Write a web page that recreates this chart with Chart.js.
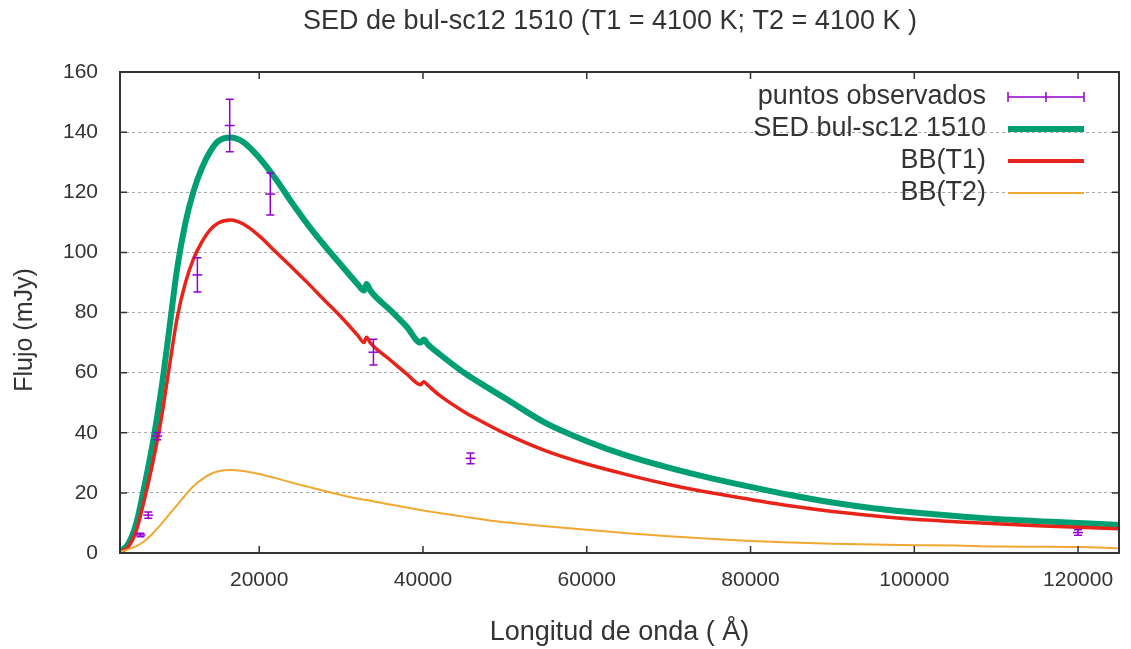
<!DOCTYPE html>
<html><head><meta charset="utf-8">
<script src="https://cdn.jsdelivr.net/npm/chart.js@4"></script>
<style>html,body{margin:0;padding:0;background:#fff;}</style>
</head><body>
<canvas id="c" width="1131" height="649"></canvas>
<script>
const wavelengths = [3000,4000,5000,6000,7000,8000,9000,10000,11000,12000,13000,14000,15000,16500,18000,20000,22000,24000,26000,28000,30000,32000,32800,33100,33600,36000,38000,39700,40100,40600,42000,45000,47000,50000,55000,60000,65000,70000,75000,80000,85000,90000,95000,100000,105000,110000,115000,120000,125000];
const sedFlux = [0.5,3,10,22.5,36.5,53.5,74,95,110,120.5,128,133.5,137,138.2,136.8,131.5,124.5,116.5,109,102.2,95.8,89.5,87.3,89.5,87.2,80.8,75.3,70,71,69.4,66.2,60,56.5,51.5,43.2,37.2,32.3,28.4,25,22,19.2,16.8,14.9,13.5,12.3,11.3,10.6,10,9.3];
const bbT1Flux = [0.3,2,7.5,18,30,44,61.5,78.5,90,98,103.5,107.5,109.8,110.8,109.5,105.5,100.2,95,89.6,84,78.5,72.5,70,71.8,69.8,64.2,59.6,56,57,55.8,52.5,47,44,39.8,34,29.6,26,22.8,20.1,17.8,15.6,13.8,12.4,11.2,10.4,9.7,9.1,8.6,8.1];
const bbT2Flux = [0.4,1.2,2.3,4,6.5,9.5,12.8,16,19.3,22.3,24.5,26.2,27.2,27.6,27.3,26.3,24.9,23.4,22,20.6,19.3,18.1,17.7,17.6,17.4,16.1,15.1,14.3,14.1,13.9,13.3,12.1,11.3,10.2,8.9,7.7,6.6,5.6,4.7,4,3.5,3.1,2.8,2.6,2.5,2.15,2.1,2.0,1.6];
const obsLambda = [5500,6450,7550,12450,16400,21350,33950,45800,120000];
const obsFlux = [6,12.6,38.9,92.5,142.2,119.4,66.8,31.5,6.8];
const obsErr = [0.6,1,1.2,5.7,8.7,7,4.3,1.8,0.9];
const xTickValues = [20000,40000,60000,80000,100000,120000];
const yTickValues = [0,20,40,60,80,100,120,140,160];
const seriesNames = ['puntos observados','SED bul-sc12 1510','BB(T1)','BB(T2)'];
const titleText = 'SED de bul-sc12 1510 (T1 = 4100 K; T2 = 4100 K )';
const xTitle = 'Longitud de onda ( Å)';
const yTitle = 'Flujo (mJy)';

const FAMILY = "'Liberation Sans', Arial, sans-serif";
const TEXT = '#333333';
const PURPLE = '#9400d3';
const GREEN = '#009e73';
const RED = '#e8231a';
const ORANGE = '#f0a830';

const toXY = (xs, ys) => xs.map((x, i) => ({x, y: ys[i]}));

const errorBars = {
  id: 'errorBars',
  afterDatasetsDraw(chart) {
    const {ctx, scales: {x, y}} = chart;
    ctx.save();
    ctx.strokeStyle = PURPLE;
    ctx.lineWidth = 1.5;
    obsLambda.forEach((l, i) => {
      const px = x.getPixelForValue(l);
      const y1 = y.getPixelForValue(obsFlux[i] - obsErr[i]);
      const y2 = y.getPixelForValue(obsFlux[i] + obsErr[i]);
      ctx.beginPath();
      ctx.moveTo(px, y1); ctx.lineTo(px, y2);
      ctx.moveTo(px - 4, y1); ctx.lineTo(px + 4, y1);
      ctx.moveTo(px - 4, y2); ctx.lineTo(px + 4, y2);
      ctx.stroke();
    });
    ctx.restore();
  }
};

const frame = {
  id: 'frame',
  afterDraw(chart) {
    const {ctx, chartArea: a, scales: {x, y}} = chart;
    ctx.save();
    ctx.strokeStyle = '#333';
    ctx.lineWidth = 1.5;
    ctx.beginPath();
    xTickValues.forEach(v => {
      const px = x.getPixelForValue(v);
      ctx.moveTo(px, a.bottom); ctx.lineTo(px, a.bottom - 7);
      ctx.moveTo(px, a.top); ctx.lineTo(px, a.top + 7);
    });
    yTickValues.forEach(v => {
      const py = y.getPixelForValue(v);
      ctx.moveTo(a.left, py); ctx.lineTo(a.left + 7, py);
      ctx.moveTo(a.right, py); ctx.lineTo(a.right - 7, py);
    });
    ctx.stroke();
    ctx.lineWidth = 2;
    ctx.strokeRect(a.left, a.top, a.right - a.left, a.bottom - a.top);
    // titles
    ctx.fillStyle = TEXT;
    ctx.textAlign = 'center';
    ctx.textBaseline = 'middle';
    ctx.font = '27px ' + FAMILY;
    ctx.fillText(titleText, 610, 22);
    ctx.save();
    ctx.translate(25, 330);
    ctx.rotate(-Math.PI / 2);
    ctx.font = '25px ' + FAMILY;
    ctx.fillText(yTitle, 0, 0);
    ctx.restore();
    // legend
    ctx.font = '27px ' + FAMILY;
    ctx.textAlign = 'right';
    const rows = [97, 129, 161, 193];
    const styles = [
      {c: PURPLE, w: 1.5}, {c: GREEN, w: 6}, {c: RED, w: 4}, {c: ORANGE, w: 2}
    ];
    const x0 = 1008, x1 = 1084;
    seriesNames.forEach((n, i) => {
      ctx.fillText(n, 986, rows[i]);
      ctx.strokeStyle = styles[i].c;
      ctx.lineWidth = styles[i].w;
      ctx.beginPath();
      ctx.moveTo(x0, rows[i]); ctx.lineTo(x1, rows[i]);
      if (i === 0) {
        ctx.moveTo(x0, rows[i] - 5); ctx.lineTo(x0, rows[i] + 5);
        ctx.moveTo(x1, rows[i] - 5); ctx.lineTo(x1, rows[i] + 5);
        ctx.moveTo((x0 + x1) / 2, rows[i] - 5); ctx.lineTo((x0 + x1) / 2, rows[i] + 5);
      }
      ctx.stroke();
    });
    ctx.restore();
  }
};

new Chart(document.getElementById('c'), {
  type: 'line',
  data: {
    datasets: [
      {label: seriesNames[0], type: 'scatter', data: toXY(obsLambda, obsFlux), showLine: false,
       pointStyle: 'line', pointRadius: 5, borderColor: PURPLE, backgroundColor: PURPLE, borderWidth: 1.5, order: 0},
      {label: seriesNames[1], data: toXY(wavelengths, sedFlux), borderColor: GREEN, borderWidth: 6,
       pointRadius: 0, cubicInterpolationMode: 'monotone', fill: false, order: 3},
      {label: seriesNames[2], data: toXY(wavelengths, bbT1Flux), borderColor: RED, borderWidth: 3.5,
       pointRadius: 0, cubicInterpolationMode: 'monotone', fill: false, order: 2},
      {label: seriesNames[3], data: toXY(wavelengths, bbT2Flux), borderColor: ORANGE, borderWidth: 2,
       pointRadius: 0, cubicInterpolationMode: 'monotone', fill: false, order: 1}
    ]
  },
  options: {
    responsive: false,
    animation: false,
    devicePixelRatio: 1,
    layout: {padding: {top: 72, left: 0, right: 12, bottom: 0}},
    plugins: {
      legend: {display: false},
      tooltip: {enabled: false},
      title: {display: false}
    },
    scales: {
      x: {
        type: 'linear', min: 3000, max: 125000,
        afterBuildTicks: s => { s.ticks = xTickValues.map(v => ({value: v})); },
        afterFit: s => { s.height = 96; },
        ticks: {font: {size: 21, family: FAMILY}, color: TEXT, padding: 7, maxRotation: 0, autoSkip: false,
                callback: v => String(v)},
        grid: {display: false},
        border: {display: false},
        title: {display: true, text: xTitle, color: TEXT, font: {size: 27, family: FAMILY, lineHeight: 1.2},
                padding: {top: 0, bottom: 0}}
      },
      y: {
        min: 0, max: 160,
        afterBuildTicks: s => { s.ticks = yTickValues.map(v => ({value: v})); },
        afterFit: s => { s.width = 120; },
        ticks: {font: {size: 21, family: FAMILY}, color: TEXT, padding: 22, callback: v => String(v)},
        grid: {color: c => (c.tick && (c.tick.value === 0 || c.tick.value === 160)) ? 'rgba(0,0,0,0)' : '#a8a8a8',
               lineWidth: 1, drawTicks: false},
        border: {display: false, dash: [3, 3]},
        title: {display: false}
      }
    }
  },
  plugins: [errorBars, frame]
});
</script>
</body></html>
